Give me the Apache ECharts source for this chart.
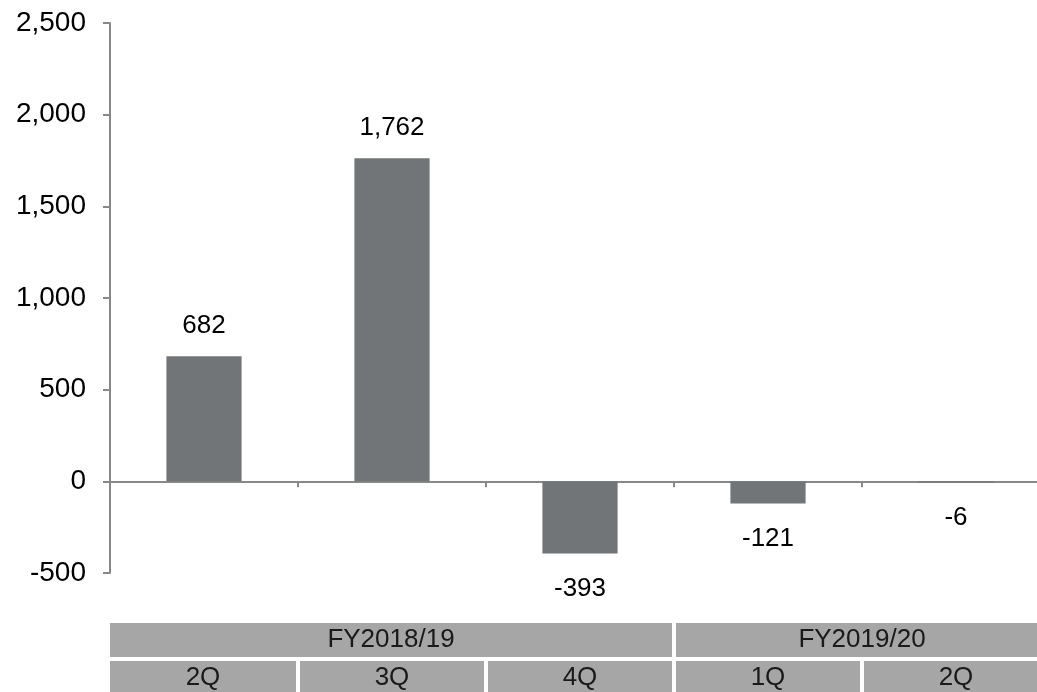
<!DOCTYPE html>
<html>
<head>
<meta charset="utf-8">
<script src="https://cdn.jsdelivr.net/npm/echarts@6/dist/echarts.min.js"></script>
<style>
html,body{margin:0;padding:0;background:#fff;}
#chart{width:1037px;height:692px;}
</style>
</head>
<body>
<div id="chart"></div>
<script>
const categories = ['2Q', '3Q', '4Q', '1Q', '2Q'];
const values = [682, 1762, -393, -121, -6];
const fiscalYears = ['FY2018/19', 'FY2019/20'];
const fiscalSpans = [3, 2];
const yMin = -500, yMax = 2500, yInterval = 500;

const FONT = '"Liberation Sans", Arial, sans-serif';

// table cells: [start, end, row, text]
const tableData = [];
let acc = 0;
fiscalYears.forEach((fy, i) => {
  tableData.push([acc, acc + fiscalSpans[i], 0, fy]);
  acc += fiscalSpans[i];
});
categories.forEach((c, i) => tableData.push([i, i + 1, 1, c]));

const barData = values.map(v => ({
  value: v,
  label: v < 0 ? { position: 'bottom', distance: 22 } : { position: 'top', distance: 17 }
}));

const chart = echarts.init(document.getElementById('chart'));
chart.setOption({
  animation: false,
  backgroundColor: '#ffffff',
  grid: [
    { left: 110, top: 23, width: 940, height: 550, containLabel: false, outerBoundsMode: 'none' },
    { left: 110, top: 621, width: 940, height: 76, containLabel: false, outerBoundsMode: 'none' }
  ],
  xAxis: [
    {
      type: 'category',
      gridIndex: 0,
      data: categories,
      boundaryGap: true,
      axisLine: { onZero: true, lineStyle: { color: '#888888', width: 2 } },
      axisTick: { show: true, interval: 0, length: 6, lineStyle: { color: '#888888', width: 2 } },
      axisLabel: { show: false },
      splitLine: { show: false }
    },
    { type: 'value', gridIndex: 1, min: 0, max: 5, show: false }
  ],
  yAxis: [
    {
      type: 'value',
      gridIndex: 0,
      min: yMin,
      max: yMax,
      interval: yInterval,
      axisLine: { show: true, lineStyle: { color: '#888888', width: 2 } },
      axisTick: { show: true, length: 7, lineStyle: { color: '#888888', width: 2 } },
      axisLabel: {
        margin: 24,
        fontSize: 28,
        color: '#000000',
        fontFamily: FONT,
        formatter: v => v.toLocaleString('en-US')
      },
      splitLine: { show: false }
    },
    { type: 'value', gridIndex: 1, min: 0, max: 2, inverse: true, show: false }
  ],
  series: [
    {
      type: 'bar',
      xAxisIndex: 0,
      yAxisIndex: 0,
      data: barData,
      barWidth: '40%',
      itemStyle: { color: '#727578' },
      label: {
        show: true,
        fontSize: 26,
        color: '#000000',
        fontFamily: FONT,
        formatter: p => p.value.toLocaleString('en-US')
      }
    },
    {
      type: 'custom',
      xAxisIndex: 1,
      yAxisIndex: 1,
      data: tableData,
      encode: { x: [0, 1], y: 2 },
      silent: true,
      renderItem: function (params, api) {
        const s = api.value(0), e = api.value(1), r = api.value(2);
        const text = tableData[params.dataIndex][3];
        const p0 = api.coord([s, r]);
        const p1 = api.coord([e, r + 1]);
        const x0 = p0[0] + (s > 0 ? 2 : 0);
        const x1 = p1[0] - 2;
        const y0 = p0[1] + 2;
        const y1 = p1[1] - 2;
        return {
          type: 'rect',
          shape: { x: x0, y: y0, width: x1 - x0, height: y1 - y0 },
          style: { fill: '#a6a6a6' },
          textContent: {
            style: { text: text, fontSize: 26, fill: '#1a1a1a', fontFamily: FONT }
          },
          textConfig: { position: 'inside' }
        };
      }
    }
  ]
});
</script>
</body>
</html>
